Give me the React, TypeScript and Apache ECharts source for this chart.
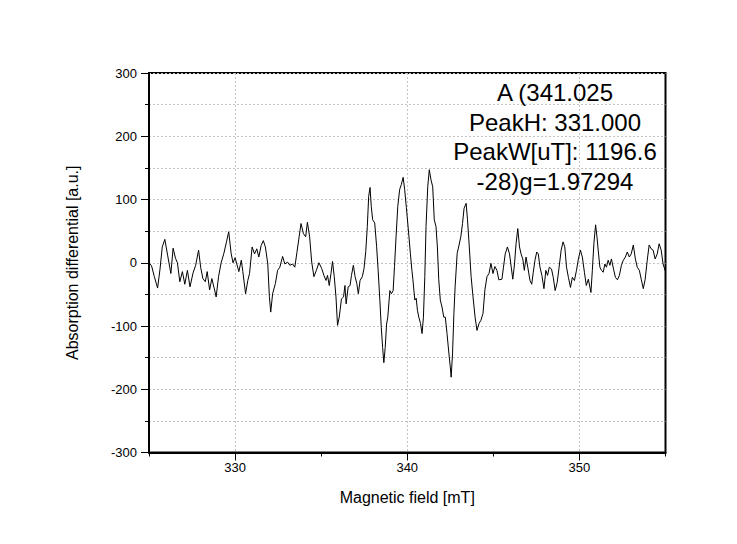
import React, { useEffect, useRef } from 'react';
import * as echarts from 'echarts';

const fieldMT = [
  325.00, 325.15, 325.31, 325.50, 325.64, 325.77, 325.92, 326.08, 326.27, 326.40,
  326.54, 326.65, 326.79, 326.94, 327.08, 327.23, 327.38, 327.56, 327.71, 327.88,
  328.00, 328.13, 328.27, 328.38, 328.52, 328.65, 328.81, 328.90, 329.04, 329.19,
  329.35, 329.50, 329.63, 329.77, 329.88, 330.00,
  330.22, 330.36, 330.45, 330.61, 330.74, 330.84, 330.99, 331.13, 331.26, 331.38,
  331.51, 331.64, 331.76, 331.90, 331.99, 332.07, 332.18, 332.34, 332.47, 332.60,
  332.76, 332.89, 333.05, 333.18, 333.34, 333.47, 333.59, 333.72, 333.83, 333.97,
  334.10, 334.20, 334.33, 334.45, 334.58, 334.72, 334.87, 335.03, 335.16,
  335.28, 335.37, 335.47, 335.57, 335.66, 335.76, 335.86, 335.95, 336.05, 336.18,
  336.30, 336.38, 336.45, 336.57, 336.68, 336.76, 336.87, 336.97, 337.07, 337.16,
  337.26, 337.39, 337.49, 337.59, 337.68, 337.76, 337.84, 337.91, 337.99, 338.11,
  338.22, 338.31, 338.41, 338.49, 338.57, 338.64, 338.72, 338.80, 338.87, 338.99,
  339.08, 339.18, 339.26, 339.35, 339.45, 339.56, 339.66, 339.76, 339.85, 339.95,
  340.08, 340.18, 340.27,
  340.33, 340.44, 340.52, 340.59, 340.67, 340.77, 340.86, 340.94, 341.02, 341.09,
  341.19, 341.28, 341.38, 341.48, 341.57, 341.67, 341.75, 341.83, 341.92, 342.02,
  342.12, 342.21, 342.31, 342.40, 342.50, 342.55, 342.63, 342.71, 342.78, 342.90,
  343.01, 343.11, 343.21, 343.30, 343.42, 343.50, 343.59, 343.71, 343.82, 343.94,
  344.05, 344.17, 344.28, 344.40, 344.51, 344.63, 344.75, 344.86, 344.98, 345.09,
  345.21, 345.32,
  345.50, 345.59, 345.69, 345.82, 345.94, 346.04, 346.13, 346.23, 346.32, 346.42,
  346.52, 346.61, 346.71, 346.80, 346.90, 347.00, 347.13, 347.23, 347.32, 347.42,
  347.52, 347.61, 347.71, 347.82, 347.94, 348.05, 348.15, 348.25, 348.38, 348.48,
  348.59, 348.71, 348.82, 348.94, 349.05, 349.15, 349.25, 349.36, 349.48, 349.59,
  349.71, 349.83, 349.94, 350.06, 350.17, 350.29, 350.40, 350.52,
  350.67, 350.75, 350.84, 350.94, 351.02, 351.09, 351.19, 351.28, 351.38, 351.48,
  351.57, 351.67, 351.77, 351.86, 351.98, 352.09, 352.21, 352.32, 352.44, 352.55,
  352.67, 352.78, 352.90, 353.01, 353.13, 353.25, 353.36, 353.48, 353.59, 353.71,
  353.82, 353.94, 354.05, 354.17, 354.28, 354.40, 354.52, 354.63, 354.75, 354.86,
  355.00
];

const absorption = [
  0, -5, -22, -40, -10, 25, 37, 12, -17, 23,
  7, 0, -30, -14, -34, -12, -38, -16, -4, 20,
  -7, -25, -30, -14, -43, -25, -43, -54, -22, 0,
  15, 33, 49, 15, 0, 8,
  -14, 4, -14, -49, -28, -17, 25, 14, 22, 9,
  27, 35, 25, -2, -53, -78, -49, -33, -12, -7,
  10, -2, 1, -4, -2, -7, 16, 41, 62, 46,
  41, 64, 41, 1, -22, -12, 0, -9, -20,
  -28, -20, -36, -17, 2, -22, -54, -99, -86, -57,
  -54, -36, -65, -38, -36, -20, -4, -22, -33, -49,
  -28, -22, -9, 18, 57, 105, 119, 89, 68, 63,
  26, -12, -60, -102, -134, -158, -134, -97, -86, -44,
  -49, -44, -6, 41, 89, 116, 124, 135, 116, 87,
  47, 15, -12,
  -27, -59, -56, -75, -86, -96, -112, -86, -22, 57,
  120, 147, 131, 120, 68, 57, 25, -27, -59, -70,
  -86, -86, -112, -138, -165, -181, -144, -80, -38, 15,
  28, 41, 62, 86, 94, 68, 31, -22, -54, -86,
  -107, -96, -91, -80, -43, -22, -17, -1, -17, -6,
  -12, -27,
  -26, -7, 14, 25, 14, -7, -26, -2, 30, 54,
  25, 14, 6, -12, 9, -7, -28, -34, -15, 4,
  17, 14, -7, -20, -41, -12, -20, -7, -10, -23,
  -44, -31, -7, 20, 33, 25, -7, -23, -39, -23,
  -28, -12, 6, 20, 9, -15, -36, -26,
  -47, -12, 30, 60, 41, 20, -7, -12, -15, -2,
  -7, 4, -4, 6, -10, -23, -27, -20, -4, 4,
  9, 17, 9, 14, 28, 6, -7, -12, -26, -41,
  -26, 4, 28, 22, 20, 6, 14, 30, 20, -2,
  -14
];

const xMajorTicks = [330, 340, 350];
const annotationLines = ['A (341.025', 'PeakH: 331.000', 'PeakW[uT]: 1196.6', '-28)g=1.97294'];

const FONT = '"Liberation Sans", Arial, sans-serif';
const gridDash = { color: '#c4c4c4', width: 1, type: [2, 2] as number[] };

export default function App() {
  const ref = useRef<HTMLDivElement>(null);

  useEffect(() => {
    if (!ref.current) return;
    const chart = echarts.init(ref.current, null, { renderer: 'svg' });
    const data = fieldMT.map((x, i) => [x, absorption[i]]);
    chart.setOption({
      animation: false,
      backgroundColor: '#ffffff',
      grid: {
        left: 149,
        right: 71.5,
        top: 73,
        bottom: 91.5,
        show: true,
        borderColor: '#000',
        borderWidth: 2,
        backgroundColor: 'transparent',
      },
      xAxis: [
        {
          type: 'value',
          min: 325,
          max: 355,
          interval: 5,
          position: 'bottom',
          axisLine: { show: true, onZero: false, lineStyle: { color: '#000', width: 2 } },
          axisTick: { show: true, length: 4, lineStyle: { color: '#000', width: 1 } },
          axisLabel: {
            formatter: (v: number) => (v % 10 === 0 ? String(v) : ''),
            color: '#000',
            fontSize: 13,
            fontFamily: FONT,
            margin: 8,
          },
          splitLine: { show: false },
          name: 'Magnetic field [mT]',
          nameLocation: 'middle',
          nameGap: 37,
          nameTextStyle: { color: '#000', fontSize: 16, fontFamily: FONT },
        },
        {
          type: 'value',
          min: 325,
          max: 355,
          position: 'bottom',
          axisLine: { show: false, onZero: false },
          axisTick: { show: true, customValues: xMajorTicks, length: 8, lineStyle: { color: '#000', width: 1 } },
          axisLabel: { show: false },
          splitLine: { show: true, lineStyle: gridDash },
        },
      ],
      yAxis: {
        type: 'value',
        min: -300,
        max: 300,
        interval: 100,
        axisLine: { show: true, onZero: false, lineStyle: { color: '#000', width: 2 } },
        axisTick: { show: true, length: 8, lineStyle: { color: '#000', width: 1 } },
        minorTick: { show: true, splitNumber: 2, length: 4, lineStyle: { color: '#000', width: 1 } },
        axisLabel: { color: '#000', fontSize: 13, fontFamily: FONT, margin: 12 },
        splitLine: { show: true, lineStyle: gridDash },
        minorSplitLine: { show: true, lineStyle: gridDash },
        name: 'Absorption differential [a.u.]',
        nameLocation: 'middle',
        nameRotate: 90,
        nameGap: 69,
        nameTextStyle: { color: '#000', fontSize: 16, fontFamily: FONT },
      },
      series: [
        {
          type: 'line',
          xAxisIndex: 0,
          yAxisIndex: 0,
          data,
          showSymbol: false,
          symbol: 'none',
          clip: true,
          lineStyle: { color: '#000', width: 1 },
        },
      ],
      graphic: annotationLines.map((t, i) => ({
        type: 'text',
        x: 555,
        y: 92.5 + 29.5 * i,
        style: {
          text: t,
          fill: '#000',
          fontSize: 24,
          fontFamily: FONT,
          textAlign: 'center',
          textVerticalAlign: 'middle',
        },
        z: 10,
      })),
    });
    return () => chart.dispose();
  }, []);

  return (
    <div
      ref={ref}
      style={{ position: 'absolute', left: 0, top: 0, width: 737, height: 544, background: '#fff' }}
    />
  );
}
